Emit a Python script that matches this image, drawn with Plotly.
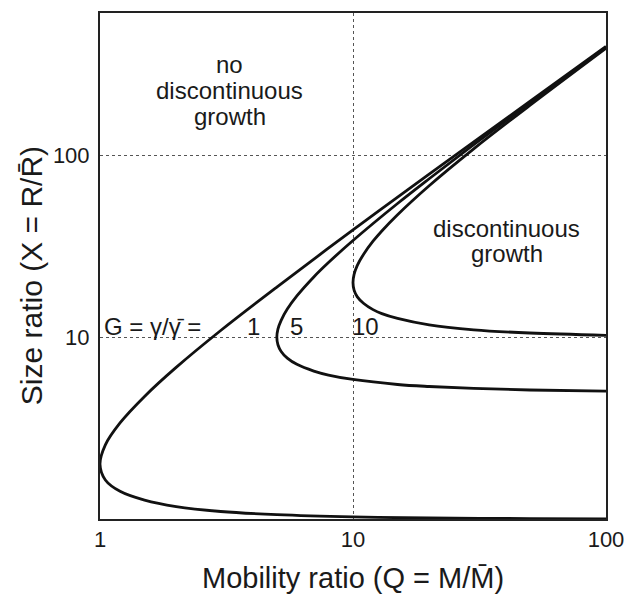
import plotly.graph_objects as go

# ---- data ----
G1_Q = [100, 50, 20, 10, 5, 3, 2, 1.5, 1.2, 1.05, 1.0, 1.05, 1.2, 1.5, 2, 3, 5, 10, 20, 50, 100]
G1_X = [399, 199, 79.0, 39.0, 18.9, 10.9, 6.83, 4.73, 3.38, 2.56, 2.0, 1.64, 1.42, 1.27, 1.17, 1.10, 1.056, 1.026, 1.013, 1.005, 1.0025]

G5_Q = [100, 50, 30, 20, 15, 10, 8, 7, 6, 5.5, 5.2, 5.05, 5.0, 5.05, 5.2, 5.5, 6, 7, 8, 10, 15, 20, 30, 50, 100]
G5_X = [395, 195, 114.8, 74.6, 54.5, 34.1, 25.8, 21.5, 16.9, 14.3, 12.4, 11.1, 10.0, 9.1, 8.36, 7.68, 7.1, 6.52, 6.2, 5.86, 5.5, 5.36, 5.23, 5.13, 5.06]

G10_Q = [100, 50, 30, 20, 15, 13, 12, 11, 10.4, 10.1, 10.0, 10.1, 10.4, 11, 12, 13, 15, 20, 30, 50, 100]
G10_X = [390, 189, 109, 68.3, 47.3, 38.5, 33.8, 28.6, 24.9, 22.2, 20.0, 18.2, 16.7, 15.4, 14.2, 13.5, 12.7, 11.7, 11.0, 10.56, 10.26]

X_TICKS = [1, 10, 100]
X_TICK_LABELS = ["1", "10", "100"]
Y_TICKS = [10, 100]
Y_TICK_LABELS = ["10", "100"]

G_LABELS = ["1", "5", "10"]

# ---- layout geometry (pixels) ----
W, H = 635, 596
L, R, T, B = 100, 615, 11, 519


def px(x):
    return (x - L) / (R - L)


def py(y):
    return (B - y) / (B - T)


FONT = "Liberation Sans, Arial, Helvetica, sans-serif"
INK = "#1a1a1a"

fig = go.Figure()
for qs, xs in [(G1_Q, G1_X), (G5_Q, G5_X), (G10_Q, G10_X)]:
    fig.add_trace(go.Scatter(
        x=qs, y=xs, mode="lines",
        line=dict(color="#111111", width=2.8, shape="spline", smoothing=1.0),
        showlegend=False, hoverinfo="skip",
    ))

annotations = []


def add_text(text, x, y, size, xanchor="center", angle=0):
    annotations.append(dict(
        text=text, x=px(x), y=py(y), xref="paper", yref="paper",
        xanchor=xanchor, yanchor="middle", showarrow=False,
        textangle=angle, font=dict(family=FONT, size=size, color=INK),
    ))


# region labels
add_text("no", 232, 63, 24)
add_text("discontinuous", 232, 89, 24)
add_text("growth", 232, 115, 24)
add_text("discontinuous", 514, 227, 24)
add_text("growth", 514, 252, 24)

# G labels
add_text("G = \u03b3/\u03b3\u0304 =", 102, 326, 24, xanchor="left")
for lab, xc in zip(G_LABELS, [256, 300, 370]):
    add_text(lab, xc, 326, 24)

# axis titles
add_text("Mobility ratio (Q = M/M\u0304)", 358, 578, 29)
add_text("Size ratio (X = R/R\u0304)", 31, 275, 30, angle=-90)

fig.update_layout(
    width=W, height=H,
    margin=dict(l=L, r=W - R, t=T, b=H - B),
    paper_bgcolor="white", plot_bgcolor="white",
    annotations=annotations,
    font=dict(family=FONT, color=INK),
)
fig.update_xaxes(
    type="log", range=[0, 2],
    tickvals=X_TICKS, ticktext=X_TICK_LABELS,
    ticks="", showline=True, linecolor="#222222", linewidth=2, mirror=True,
    showgrid=True, gridcolor="#555555", gridwidth=1, griddash="dot",
    zeroline=False, tickfont=dict(family=FONT, size=22, color=INK),
)
fig.update_yaxes(
    type="log", range=[0, 2.785],
    tickvals=Y_TICKS, ticktext=Y_TICK_LABELS,
    ticks="", showline=True, linecolor="#222222", linewidth=2, mirror=True,
    showgrid=True, gridcolor="#555555", gridwidth=1, griddash="dot",
    zeroline=False, tickfont=dict(family=FONT, size=22, color=INK),
    ticklabelstandoff=4,
)

fig.write_html("out.html")
